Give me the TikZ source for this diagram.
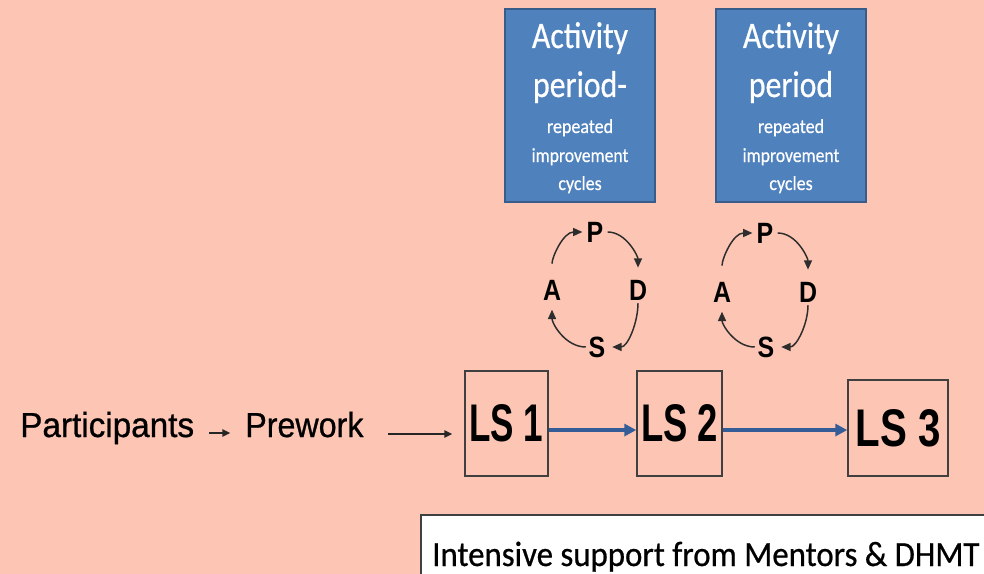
\documentclass[tikz,border=0pt]{standalone}
\usepackage{fontspec}
\setmainfont{Liberation Sans}
\newfontfamily\calfont[FakeBold=0.6]{Carlito}
\newfontfamily\arfont{Liberation Sans}
\newfontfamily\arheavy[FakeBold=0.8]{Liberation Sans}
\usetikzlibrary{arrows.meta}
\definecolor{bgc}{RGB}{253,197,179}
\definecolor{boxblue}{RGB}{79,129,189}
\definecolor{boxedge}{RGB}{56,93,138}
\definecolor{arrblue}{RGB}{52,92,150}
\definecolor{edgegray}{RGB}{64,64,64}
\definecolor{cyclegray}{RGB}{45,45,45}
\begin{document}
\begin{tikzpicture}[x=0.75pt,y=-0.75pt,
  bluebox/.style={draw=boxedge,fill=boxblue,line width=2pt,minimum width={150*0.75pt},minimum height={193*0.75pt},inner sep=0pt},
  bigtxt/.style={anchor=base,text=white,inner sep=0pt,font=\calfont\fontsize{28}{28}\selectfont},
  smalltxt/.style={anchor=base,text=white,inner sep=0pt,font=\calfont\fontsize{15}{15}\selectfont},
  letter/.style={inner sep=0pt,font=\arfont\bfseries\fontsize{22}{22}\selectfont},
  cyc/.style={draw=cyclegray,line width=1.1pt,-{Triangle[length=7pt,width=6pt]}},
  lsbox/.style={draw=edgegray,line width=1.1pt,inner sep=0pt,font=\arfont\bfseries\fontsize{39}{39}\selectfont},
  plain/.style={inner sep=0pt,anchor=base west,font=\arheavy\fontsize{26}{26}\selectfont},
  blk/.style={draw=black!85,line width=1.1pt,-{Triangle[length=6pt,width=5.5pt]}},
  blu/.style={draw=arrblue,line width=2.4pt,-{Triangle[length=9pt,width=9pt]}}
]
\useasboundingbox (0,0) rectangle (984,574);
\fill[bgc] (0,0) rectangle (984,574);

% blue boxes
\node[bluebox] (box1) at (580,105.5) {};
\node[bluebox] (box2) at (791,105.5) {};
\node[bigtxt] (b1l1) at (580,48) {\scalebox{0.85}[1]{Activity}};
\node[bigtxt] (b1l2) at (580,97) {\scalebox{0.85}[1]{period-}};
\node[smalltxt] (b1l3) at (580,133) {\scalebox{0.9}[1]{repeated}};
\node[smalltxt] (b1l4) at (580,162) {\scalebox{0.88}[1]{improvement}};
\node[smalltxt] (b1l5) at (580,190) {\scalebox{0.9}[1]{cycles}};
\node[bigtxt] (b2l1) at (791,48) {\scalebox{0.85}[1]{Activity}};
\node[bigtxt] (b2l2) at (791,97) {\scalebox{0.85}[1]{period}};
\node[smalltxt] (b2l3) at (791,133) {\scalebox{0.9}[1]{repeated}};
\node[smalltxt] (b2l4) at (791,162) {\scalebox{0.88}[1]{improvement}};
\node[smalltxt] (b2l5) at (791,190) {\scalebox{0.9}[1]{cycles}};

% PDSA cycle 1
\node[letter] (P1) at (595,232) {\scalebox{0.85}[1]{P}};
\node[letter] (D1) at (638,290) {\scalebox{0.85}[1]{D}};
\node[letter] (S1) at (597,347) {\scalebox{0.85}[1]{S}};
\node[letter] (A1) at (552,290) {\scalebox{0.85}[1]{A}};
\draw[cyc,shorten <=12pt,shorten >=3pt] (A1.north) to[out=90,in=180] (P1.west);
\draw[cyc,shorten <=3pt,shorten >=9pt] (P1.east) to[out=0,in=90] (D1.north);
\draw[cyc,shorten <=2pt,shorten >=5pt] (D1.south) to[out=-90,in=0] (S1.east);
\draw[cyc,shorten <=2pt,shorten >=7pt] (S1.west) to[out=180,in=-90] (A1.south);

% PDSA cycle 2
\node[letter] (P2) at (765,233) {\scalebox{0.85}[1]{P}};
\node[letter] (D2) at (808,292) {\scalebox{0.85}[1]{D}};
\node[letter] (S2) at (766,347) {\scalebox{0.85}[1]{S}};
\node[letter] (A2) at (722,292) {\scalebox{0.85}[1]{A}};
\draw[cyc,shorten <=12pt,shorten >=3pt] (A2.north) to[out=90,in=180] (P2.west);
\draw[cyc,shorten <=3pt,shorten >=9pt] (P2.east) to[out=0,in=90] (D2.north);
\draw[cyc,shorten <=2pt,shorten >=5pt] (D2.south) to[out=-90,in=0] (S2.east);
\draw[cyc,shorten <=2pt,shorten >=7pt] (S2.west) to[out=180,in=-90] (A2.south);

% LS boxes
\node[lsbox,minimum width={83*0.75pt},minimum height={105*0.75pt}] (LS1) at (506.5,423.5) {\resizebox{55.5pt}{27.75pt}{LS 1}};
\node[lsbox,minimum width={85*0.75pt},minimum height={105*0.75pt}] (LS2) at (679.5,423.5) {\resizebox{57.75pt}{27.75pt}{LS 2}};
\node[lsbox,minimum width={100*0.75pt},minimum height={96*0.75pt}] (LS3) at (898,428) {\resizebox{63.75pt}{27.75pt}{LS 3}};

% left texts
\node[plain] (part) at (20,437) {\scalebox{0.96}[1]{Participants}};
\node[plain] (prew) at (245,437) {\scalebox{0.93}[1]{Prework}};
\draw[blk,shorten <=11pt,shorten >=11pt] ([yshift=3pt]part.base east) -- ([yshift=3pt]prew.base west);
\draw[blk,shorten <=18pt,shorten >=9pt] ([yshift=2.25pt]prew.base east) -- ([yshift=2.25pt]prew.base east -| LS1.west);

% blue arrows
\draw[blu] ([yshift=-4.9pt]LS1.east) -- ([yshift=-4.9pt]LS2.west);
\draw[blu] ([yshift=-4.9pt]LS2.east) -- ([yshift=-4.9pt]LS2.east -| LS3.west);

% support box
\node[draw=edgegray,fill=white,line width=1.5pt,anchor=north west,minimum width={600*0.75pt},minimum height={90*0.75pt},inner sep=0pt] (sup) at (420,514) {};
\node[inner sep=0pt,anchor=base west,font=\calfont\fontsize{26.5}{26.5}\selectfont] (suptxt) at (432,566) {\scalebox{0.93}[1]{Intensive support from Mentors \& DHMT}};
\end{tikzpicture}
\end{document}
